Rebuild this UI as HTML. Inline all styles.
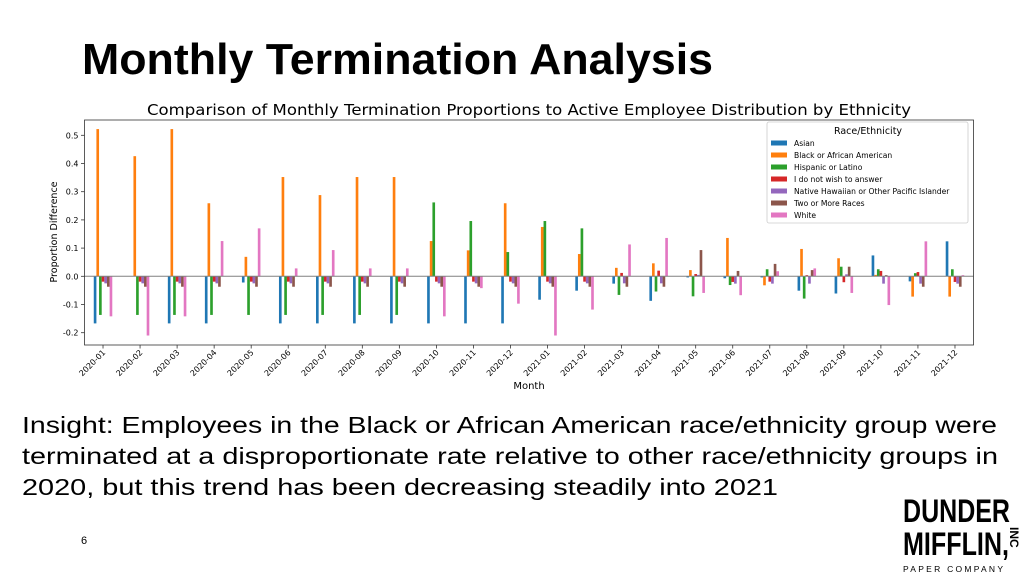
<!DOCTYPE html>
<html><head><meta charset="utf-8"><style>
html,body{margin:0;padding:0;background:#fff;}
svg{display:block;font-family:"Liberation Sans","DejaVu Sans",sans-serif;}
</style></head><body>
<svg id="page" width="1024" height="576" viewBox="0 0 1024 576">
<text x="82" y="74" font-size="44" font-weight="bold" textLength="631" lengthAdjust="spacingAndGlyphs">Monthly Termination Analysis</text>
<text x="529" y="115" font-size="15.5" text-anchor="middle" font-family="DejaVu Sans, sans-serif" textLength="764" lengthAdjust="spacingAndGlyphs">Comparison of Monthly Termination Proportions to Active Employee Distribution by Ethnicity</text>
<g id="chart" font-family="DejaVu Sans, sans-serif"></g>
<text x="22" y="433" font-size="23.5" textLength="975" lengthAdjust="spacingAndGlyphs">Insight: Employees in the Black or African American race/ethnicity group were</text>
<text x="22" y="464" font-size="23.5" textLength="976" lengthAdjust="spacingAndGlyphs">terminated at a disproportionate rate relative to other race/ethnicity groups in</text>
<text x="22" y="495" font-size="23.5" textLength="756" lengthAdjust="spacingAndGlyphs">2020, but this trend has been decreasing steadily into 2021</text>
<text x="81" y="544" font-size="11">6</text>
<g>
<text x="903" y="522" font-size="32" font-weight="bold" textLength="107" lengthAdjust="spacingAndGlyphs">DUNDER</text>
<text x="903" y="555" font-size="32" font-weight="bold" textLength="106" lengthAdjust="spacingAndGlyphs">MIFFLIN,</text>
<text x="0" y="0" font-size="12" font-weight="bold" transform="translate(1010,527) rotate(90)">INC</text>
<text x="903" y="572" font-size="8.5" textLength="100" lengthAdjust="spacing">PAPER COMPANY</text>
</g>
</svg>
<script>
const months = ["2020-01","2020-02","2020-03","2020-04","2020-05","2020-06","2020-07","2020-08","2020-09","2020-10","2020-11","2020-12","2021-01","2021-02","2021-03","2021-04","2021-05","2021-06","2021-07","2021-08","2021-09","2021-10","2021-11","2021-12"];
const seriesNames = ["Asian","Black or African American","Hispanic or Latino","I do not wish to answer","Native Hawaiian or Other Pacific Islander","Two or More Races","White"];
const asian = [-0.167,0,-0.167,-0.167,-0.022,-0.167,-0.167,-0.167,-0.167,-0.167,-0.167,-0.167,-0.083,-0.051,-0.026,-0.087,-0.004,-0.007,-0.004,-0.051,-0.061,0.074,-0.018,0.124];
const black = [0.522,0.426,0.522,0.259,0.069,0.352,0.288,0.352,0.352,0.125,0.092,0.259,0.175,0.079,0.030,0.046,0.022,0.136,-0.032,0.097,0.064,0.005,-0.072,-0.072];
const hispanic = [-0.137,-0.137,-0.137,-0.137,-0.137,-0.137,-0.137,-0.137,-0.137,0.262,0.196,0.086,0.196,0.170,-0.066,-0.054,-0.071,-0.031,0.025,-0.079,0.034,0.025,0.011,0.025];
const noAnswer = [-0.019,-0.019,-0.019,-0.019,-0.019,-0.019,-0.019,-0.019,-0.019,-0.019,-0.019,-0.019,-0.019,-0.019,0.012,0.020,0.008,-0.020,-0.019,0.004,-0.021,0.019,0.015,-0.020];
const hawaiian = [-0.025,-0.025,-0.025,-0.025,-0.025,-0.025,-0.025,-0.025,-0.025,-0.025,-0.025,-0.025,-0.025,-0.025,-0.025,-0.025,0.005,-0.026,-0.026,-0.026,0.007,-0.026,-0.026,-0.026];
const twoPlus = [-0.037,-0.037,-0.037,-0.037,-0.037,-0.037,-0.037,-0.037,-0.037,-0.037,-0.037,-0.037,-0.037,-0.037,-0.037,-0.037,0.093,0.019,0.044,0.022,0.034,0.004,-0.037,-0.037];
const white = [-0.142,-0.210,-0.142,0.125,0.170,0.028,0.093,0.028,0.028,-0.142,-0.042,-0.097,-0.210,-0.118,0.113,0.136,-0.059,-0.067,0.018,0.028,-0.059,-0.102,0.124,0.004];
const yTicks = [-0.2,-0.1,0.0,0.1,0.2,0.3,0.4,0.5];
const colors = ["#1f77b4","#ff7f0e","#2ca02c","#d62728","#9467bd","#8c564b","#e377c2"];

const NS="http://www.w3.org/2000/svg";
const g=document.getElementById('chart');
const L=84.5,R=973.5,T=120,B=345;
const y0=276.3, k=282;
function yScale(v){return y0-v*k;}
const step=(R-L)/months.length;
function xScale(i){return L+step*(i+0.5);}
function mk(tag,attrs,parent){const e=document.createElementNS(NS,tag);for(const a in attrs)e.setAttribute(a,attrs[a]);(parent||g).appendChild(e);return e;}

const all=[asian,black,hispanic,noAnswer,hawaiian,twoPlus,white];
const bw=step*0.5/7;
all.forEach((ser,s)=>{
  ser.forEach((v,i)=>{
    const x=xScale(i)-step*0.25+s*bw;
    const ya=yScale(Math.max(v,0)), yb=yScale(Math.min(v,0));
    const r=mk('rect',{x:x,y:ya,width:bw,height:Math.max(yb-ya,0),fill:colors[s]});
    
    
  });
});
const zl=mk('line',{x1:L,x2:R,y1:y0,y2:y0,stroke:'#808080','stroke-width':1});


const frame=mk('rect',{x:L,y:T,width:R-L,height:B-T,fill:'none',stroke:'#333','stroke-width':0.8});


yTicks.forEach(t=>{
  const y=yScale(t);
  mk('line',{x1:L-3.5,x2:L,y1:y,y2:y,stroke:'#333','stroke-width':0.8});
  const tx=mk('text',{x:L-6,y:y+3,'font-size':8,'text-anchor':'end'});
  tx.textContent=t.toFixed(1);
  
  
});
months.forEach((m,i)=>{
  const x=xScale(i);
  mk('line',{x1:x,x2:x,y1:B,y2:B+3.5,stroke:'#333','stroke-width':0.8});
  const tx=mk('text',{x:0,y:0,'font-size':8,'text-anchor':'end',transform:`translate(${x+3},${B+8}) rotate(-45)`});
  tx.textContent=m;
  
  
});
const xl=mk('text',{x:(L+R)/2,y:389,'font-size':10,'text-anchor':'middle'});
xl.textContent='Month';


const yl=mk('text',{x:0,y:0,'font-size':9.5,'text-anchor':'middle',transform:`translate(57,232) rotate(-90)`});
yl.textContent='Proportion Difference';


const lg=mk('g',{});


mk('rect',{x:767,y:122,width:201,height:101,fill:'#fff',stroke:'#ccc','stroke-width':0.8,rx:2},lg);
const lt=mk('text',{x:868,y:134,'font-size':9.5,'text-anchor':'middle'},lg);
lt.textContent='Race/Ethnicity';
seriesNames.forEach((n,s)=>{
  const y=143+s*12;
  const e=mk('g',{},lg);
  
  
  mk('rect',{x:771,y:y-2.5,width:16,height:5,fill:colors[s]},e);
  const t=mk('text',{x:794,y:y+3,'font-size':7.6},e);
  t.textContent=n;
});
</script>
</body></html>
